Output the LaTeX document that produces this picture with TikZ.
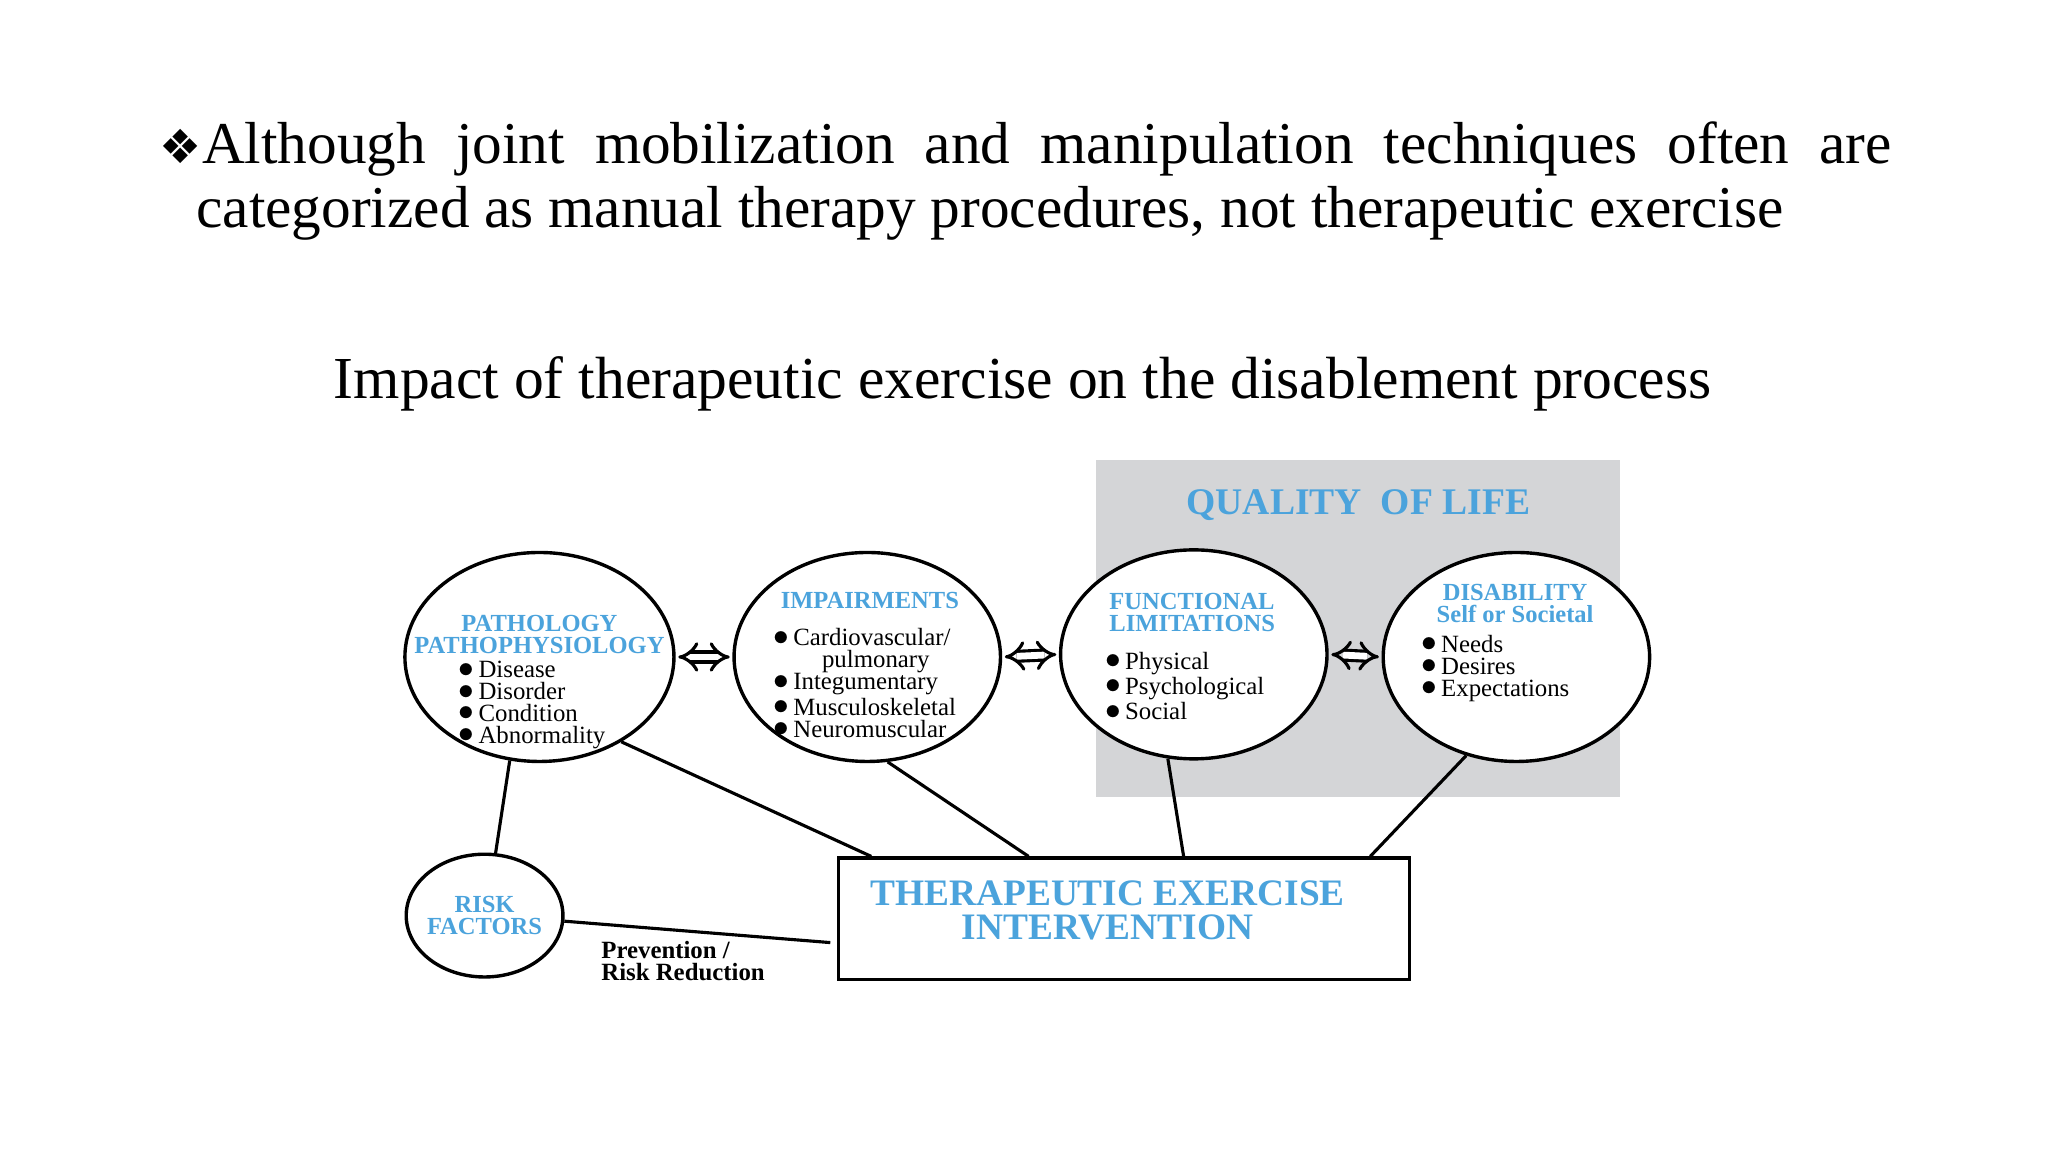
\documentclass[tikz,border=0pt]{standalone}
\usepackage{fontspec}
\setmainfont{Liberation Serif}
\newfontfamily\djv{DejaVu Sans}
\usetikzlibrary{shapes.geometric,arrows.meta,calc}
\definecolor{qblue}{HTML}{4BA3DC}
\definecolor{qgrey}{HTML}{D4D5D7}
\newcommand{\bl}{\makebox[7.5pt][l]{\smash{\raisebox{0.3pt}{\large$\bullet$}}}}
\begin{document}
\begin{tikzpicture}[x=0.5pt,y=-0.5pt,
  circ/.style={draw=black,line width=1.3pt,ellipse,fill=white,inner sep=0pt},
  hd/.style={text=qblue,font=\bfseries\fontsize{9.4}{8.4}\selectfont,align=center,inner sep=0pt},
  lst/.style={font=\fontsize{9.5}{8.4}\selectfont,align=left,inner sep=0pt,anchor=north west},
  ln/.style={line width=1.2pt},
  dbl/.style={double,double distance=2.6pt,line width=1.2pt,{Implies}-{Implies},shorten >=1pt,shorten <=1pt}]
\useasboundingbox (0,0) rectangle (1568,882);
\fill[white] (0,0) rectangle (1568,882);
% titles
\node[anchor=base west,inner sep=0pt,font=\fontsize{22.7}{26}\selectfont] (t1) at (122,125)
  {\makebox[663pt][s]{{\djv\fontsize{18}{20}\selectfont ❖}Although joint mobilization and manipulation techniques often are}};
\node[anchor=base west,inner sep=0pt,font=\fontsize{22.7}{26}\selectfont] (t2) at (150,174)
  {categorized as manual therapy procedures, not therapeutic exercise};
\node[anchor=base,inner sep=0pt,font=\fontsize{22.8}{26}\selectfont] (t3) at (783,305)
  {Impact of therapeutic exercise on the disablement process};
% grey panel
\node[fill=qgrey,minimum width=200.5pt,minimum height=129pt,inner sep=0pt] (qol) at (1039.5,481) {};
\node[text=qblue,font=\bfseries\fontsize{14.4}{16}\selectfont,inner sep=0pt] (qolt) at (1040,387) {QUALITY\ \ OF LIFE};
% circles
\node[circ,minimum width=103pt,minimum height=80pt] (pat) at (413,503) {};
\node[circ,minimum width=102pt,minimum height=80pt] (imp) at (664,503) {};
\node[circ,minimum width=102pt,minimum height=80pt] (fun) at (914,501) {};
\node[circ,minimum width=102pt,minimum height=80pt] (dis) at (1161,503) {};
\node[circ,minimum width=60pt,minimum height=47pt] (risk) at (371,701) {};
\node[draw=black,line width=1.3pt,minimum width=218.5pt,minimum height=46.5pt,inner sep=0pt] (box) at (860.5,703.5) {};
% texts
\node[hd] (patt) at (413,486) {PATHOLOGY\\PATHOPHYSIOLOGY};
\node[lst] (patl) at (351,506) {\bl Disease\\\bl Disorder\\\bl Condition\\\bl Abnormality};
\node[hd] (impt) at (666,460) {IMPAIRMENTS};
\node[lst] (impl) at (592,481) {\bl Cardiovascular/\\\makebox[7.5pt]{}\hspace{11pt}pulmonary\\\bl Integumentary\\\bl Musculoskeletal\\\bl Neuromuscular};
\node[hd,align=left,anchor=west] (funt) at (849,469) {FUNCTIONAL\\LIMITATIONS};
\node[lst] (funl) at (846,499) {\bl Physical\\\bl Psychological\\\bl Social};
\node[hd] (dist) at (1160,462) {DISABILITY\\Self or Societal};
\node[lst] (disl) at (1088,486) {\bl Needs\\\bl Desires\\\bl Expectations};
\node[hd] (riskt) at (371,701) {RISK\\FACTORS};
\node[text=qblue,font=\bfseries\fontsize{14.3}{13}\selectfont,align=center,inner sep=0pt] (boxt) at (848,697) {THERAPEUTIC EXERCISE\\INTERVENTION};
\node[font=\bfseries\fontsize{9.5}{8.4}\selectfont,align=left,inner sep=0pt,anchor=west] (prev) at (460,736) {Prevention /\\Risk Reduction};
% arrows
\draw[dbl] (pat.east) -- (imp.west);
\draw[dbl] (imp.east) -- (fun.west);
\draw[dbl] (fun.east) -- (dis.west);
% connectors
\coordinate (b1) at ($(box.north west)!0.06!(box.north east)$);
\coordinate (b2) at ($(box.north west)!0.334!(box.north east)$);
\coordinate (b3) at ($(box.north west)!0.604!(box.north east)$);
\coordinate (b4) at ($(box.north west)!0.929!(box.north east)$);
\coordinate (b5) at ($(box.north west)!0.69!(box.south west)+(-5,0)$);
\draw[ln] (pat.-106) -- (risk.80);
\draw[ln] (pat.-46) -- (b1);
\draw[ln] (imp.-79) -- (b2);
\draw[ln] (fun.-104) -- (b3);
\draw[ln] (dis.-117) -- (b4);
\draw[ln] (risk.-4) -- (b5);
\end{tikzpicture}
\end{document}
